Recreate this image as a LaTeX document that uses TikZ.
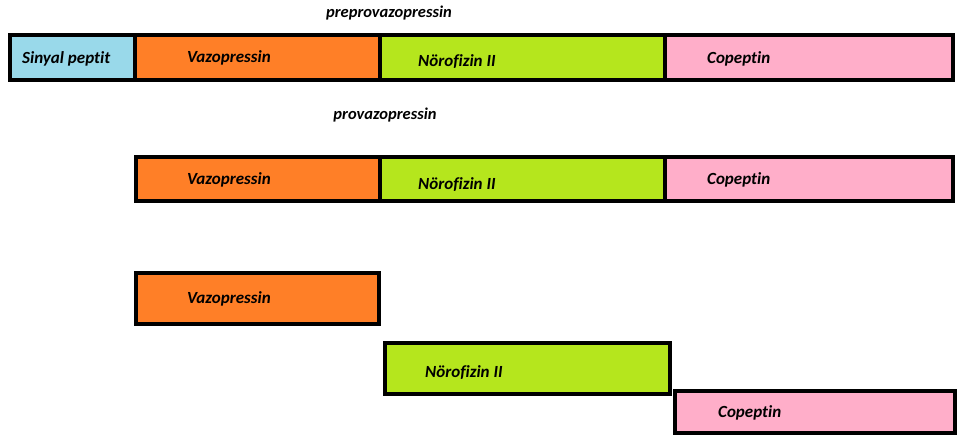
\documentclass[tikz,border=0pt]{standalone}
\usepackage{fontspec}
\setmainfont{Carlito}[Ligatures=NoCommon]
\definecolor{sig}{HTML}{99D9EA}
\definecolor{vaz}{HTML}{FF7F27}
\definecolor{nor}{HTML}{B5E61D}
\definecolor{cop}{HTML}{FFAEC9}
\tikzset{
  seg/.style={draw=black, line width=4pt, anchor=north west, inner sep=0pt, outer sep=0pt},
  lbl/.style={font=\fontsize{17}{19}\selectfont\bfseries\itshape, anchor=west, inner sep=0pt},
  ttl/.style={font=\fontsize{16.5}{19}\selectfont\bfseries\itshape, inner sep=0pt}
}
\begin{document}
\begin{tikzpicture}[x=1pt,y=-1pt]
\useasboundingbox[fill=white] (0,0) rectangle (958,441);
% row 1
\node[seg, fill=sig, minimum width=125pt, minimum height=45pt] (s1) at (10,35) {};
\node[seg, fill=vaz, minimum width=245pt, minimum height=45pt] (v1) at (135,35) {};
\node[seg, fill=nor, minimum width=285pt, minimum height=45pt] (n1) at (380,35) {};
\node[seg, fill=cop, minimum width=288pt, minimum height=45pt] (c1) at (665,35) {};
% row 2
\node[seg, fill=vaz, minimum width=244pt, minimum height=44pt] (v2) at (136,157) {};
\node[seg, fill=nor, minimum width=285pt, minimum height=44pt] (n2) at (380,157) {};
\node[seg, fill=cop, minimum width=288pt, minimum height=44pt] (c2) at (665,157) {};
% row 3
\node[seg, fill=vaz, minimum width=243pt, minimum height=51pt] (v3) at (136,273) {};
\node[seg, fill=nor, minimum width=285pt, minimum height=51pt] (n3) at (385,343) {};
\node[seg, fill=cop, minimum width=280pt, minimum height=42pt] (c3) at (675,391) {};
% titles
\node[ttl] (t1) at (389,13) {preprovazopressin};
\node[ttl] (t2) at (385,115) {provazopressin};
% labels
\node[lbl, xshift=12pt, yshift=-1pt] at (s1.west) {Sinyal peptit};
\node[lbl, xshift=52pt] at (v1.west) {Vazopressin};
\node[lbl, xshift=38pt, yshift=-4pt] at (n1.west) {Nörofizin II};
\node[lbl, xshift=42pt, yshift=-1pt] at (c1.west) {Copeptin};
\node[lbl, xshift=51pt, yshift=-1pt] at (v2.west) {Vazopressin};
\node[lbl, xshift=38pt, yshift=-6pt] at (n2.west) {Nörofizin II};
\node[lbl, xshift=42pt, yshift=-1pt] at (c2.west) {Copeptin};
\node[lbl, xshift=51pt, yshift=0pt] at (v3.west) {Vazopressin};
\node[lbl, xshift=40pt, yshift=-4pt] at (n3.west) {Nörofizin II};
\node[lbl, xshift=43pt, yshift=-1pt] at (c3.west) {Copeptin};
\end{tikzpicture}
\end{document}
